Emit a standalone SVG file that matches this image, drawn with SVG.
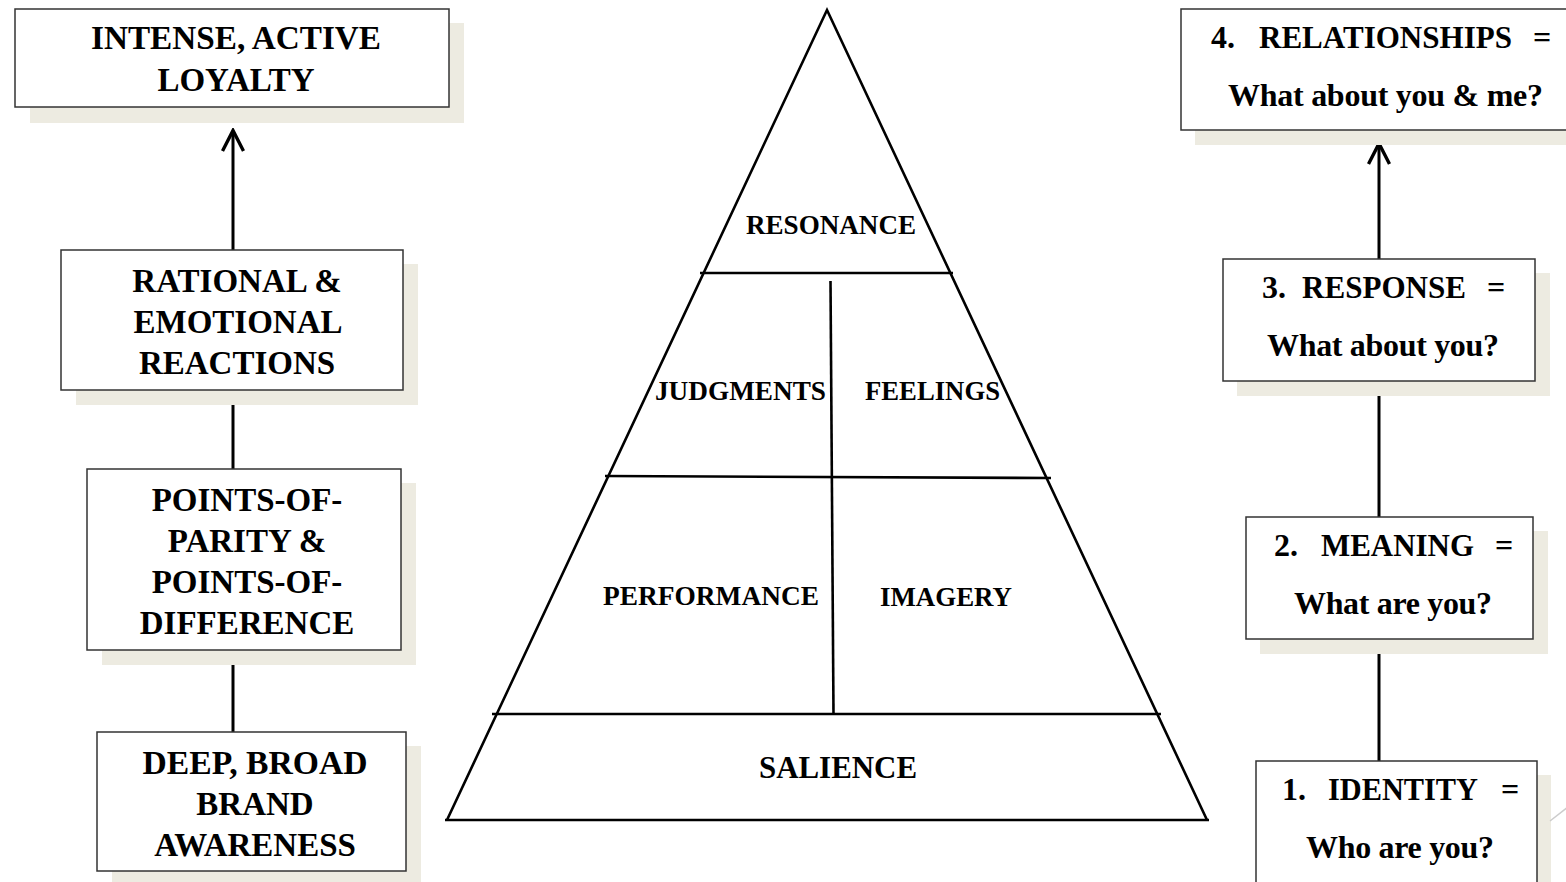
<svg xmlns="http://www.w3.org/2000/svg" width="1566" height="882" viewBox="0 0 1566 882">
  <defs>
    <style>
      .box { fill: #ffffff; stroke: #333333; stroke-width: 1.5; }
      .shadow { fill: #edebe1; stroke: none; }
      .link { stroke: #000000; stroke-width: 3; fill: none; }
      .pyr { stroke: #000000; stroke-width: 2.6; fill: none; stroke-linecap: butt; }
      .t { font-family: "Liberation Serif", "Times New Roman", serif; font-weight: bold; fill: #000000; }
      .big { font-size: 33px; text-anchor: middle; }
      .q { font-size: 32px; }
      .lvl { font-size: 27px; }
    </style>
    <!-- open chevron arrowhead, drawn pointing along +x -->
    <marker id="arrow" viewBox="0 0 24 24" refX="21" refY="12" markerWidth="24" markerHeight="24" markerUnits="userSpaceOnUse" orient="auto">
      <polyline points="1,1.5 21.5,12 1,22.5" fill="none" stroke="#000000" stroke-width="3.4" stroke-linejoin="miter"/>
    </marker>
  </defs>

  <rect width="1566" height="882" fill="#ffffff"/>

  <!-- connectors -->
  <g id="connectors">
    <line class="link" x1="233" y1="250" x2="233" y2="131" marker-end="url(#arrow)"/>
    <line class="link" x1="233" y1="405" x2="233" y2="469"/>
    <line class="link" x1="233" y1="665" x2="233" y2="732"/>
    <line class="link" x1="1379" y1="259" x2="1379" y2="144" marker-end="url(#arrow)"/>
    <line class="link" x1="1379" y1="396" x2="1379" y2="517"/>
    <line class="link" x1="1379" y1="654" x2="1379" y2="761"/>
  </g>

  <!-- left column: customer brand response -->
  <g id="loyalty">
    <rect class="shadow" x="30" y="23" width="434" height="100"/>
    <rect class="box" x="15" y="9" width="434" height="98"/>
    <text class="t big" x="236" y="49" textLength="290" lengthAdjust="spacingAndGlyphs">INTENSE, ACTIVE</text>
    <text class="t big" x="236" y="91">LOYALTY</text>
  </g>

  <g id="reactions">
    <rect class="shadow" x="76" y="264" width="342" height="141"/>
    <rect class="box" x="61" y="250" width="342" height="140"/>
    <text class="t big" x="237" y="292">RATIONAL &amp;</text>
    <text class="t big" x="238" y="333">EMOTIONAL</text>
    <text class="t big" x="237" y="374">REACTIONS</text>
  </g>

  <g id="points">
    <rect class="shadow" x="102" y="483" width="314" height="182"/>
    <rect class="box" x="87" y="469" width="314" height="181"/>
    <text class="t big" x="247" y="511">POINTS-OF-</text>
    <text class="t big" x="247" y="552">PARITY &amp;</text>
    <text class="t big" x="247" y="593">POINTS-OF-</text>
    <text class="t big" x="247" y="634">DIFFERENCE</text>
  </g>

  <g id="awareness">
    <rect class="shadow" x="112" y="746" width="309" height="140"/>
    <rect class="box" x="97" y="732" width="309" height="139"/>
    <text class="t big" x="255" y="774" textLength="225" lengthAdjust="spacingAndGlyphs">DEEP, BROAD</text>
    <text class="t big" x="255" y="815">BRAND</text>
    <text class="t big" x="255" y="856">AWARENESS</text>
  </g>

  <!-- pyramid -->
  <g id="pyramid">
    <polyline class="pyr" points="447,820 827,10 1207,820"/>
    <line class="pyr" x1="445" y1="820" x2="1209" y2="820" stroke-width="3.4"/>
    <line class="pyr" x1="700" y1="273" x2="953" y2="273"/>
    <line class="pyr" x1="605" y1="476" x2="1051" y2="478"/>
    <line class="pyr" x1="492" y1="714" x2="1161" y2="714"/>
    <line class="pyr" x1="830.5" y1="281" x2="833.5" y2="714" stroke-width="2.2"/>
  </g>

  <g id="resonance">
    <text class="t lvl" x="746" y="234" textLength="170" lengthAdjust="spacingAndGlyphs">RESONANCE</text>
  </g>
  <g id="judgments">
    <text class="t lvl" x="655" y="400" textLength="171" lengthAdjust="spacingAndGlyphs">JUDGMENTS</text>
  </g>
  <g id="feelings">
    <text class="t lvl" x="865" y="400" textLength="135" lengthAdjust="spacingAndGlyphs">FEELINGS</text>
  </g>
  <g id="performance">
    <text class="t lvl" x="603" y="605" textLength="216" lengthAdjust="spacingAndGlyphs">PERFORMANCE</text>
  </g>
  <g id="imagery">
    <text class="t lvl" x="880" y="606" textLength="132" lengthAdjust="spacingAndGlyphs">IMAGERY</text>
  </g>
  <g id="salience">
    <text class="t" font-size="32" x="759" y="778" textLength="158" lengthAdjust="spacingAndGlyphs">SALIENCE</text>
  </g>

  <!-- right column: branding ladder -->
  <g id="relationships">
    <rect class="shadow" x="1195" y="23" width="380" height="122"/>
    <rect class="box" x="1181" y="9" width="390" height="121"/>
    <text class="t q" y="48"><tspan x="1211">4.</tspan><tspan x="1259" textLength="253" lengthAdjust="spacingAndGlyphs">RELATIONSHIPS</tspan><tspan x="1533">=</tspan></text>
    <text class="t q" x="1228" y="106" textLength="315" lengthAdjust="spacing">What about you &amp; me?</text>
  </g>

  <g id="response">
    <rect class="shadow" x="1237" y="273" width="313" height="123"/>
    <rect class="box" x="1223" y="259" width="312" height="122"/>
    <text class="t q" y="298"><tspan x="1262">3.</tspan><tspan x="1302" textLength="164" lengthAdjust="spacingAndGlyphs">RESPONSE</tspan><tspan x="1487">=</tspan></text>
    <text class="t q" x="1267" y="356" textLength="232" lengthAdjust="spacing">What about you?</text>
  </g>

  <g id="meaning">
    <rect class="shadow" x="1260" y="531" width="288" height="123"/>
    <rect class="box" x="1246" y="517" width="287" height="122"/>
    <text class="t q" y="556"><tspan x="1274">2.</tspan><tspan x="1321" textLength="153" lengthAdjust="spacingAndGlyphs">MEANING</tspan><tspan x="1495">=</tspan></text>
    <text class="t q" x="1294" y="614" textLength="198" lengthAdjust="spacing">What are you?</text>
  </g>

  <g id="identity">
    <rect class="shadow" x="1270" y="775" width="281" height="115"/>
    <rect class="box" x="1256" y="761" width="281" height="130"/>
    <text class="t q" y="800"><tspan x="1282">1.</tspan><tspan x="1328" textLength="150" lengthAdjust="spacingAndGlyphs">IDENTITY</tspan><tspan x="1501">=</tspan></text>
    <text class="t q" x="1306" y="858" textLength="188" lengthAdjust="spacing">Who are you?</text>
  </g>

  <!-- faint corner stroke -->
  <line x1="1550" y1="821" x2="1568" y2="807" stroke="#cccccc" stroke-width="1.5"/>
</svg>
